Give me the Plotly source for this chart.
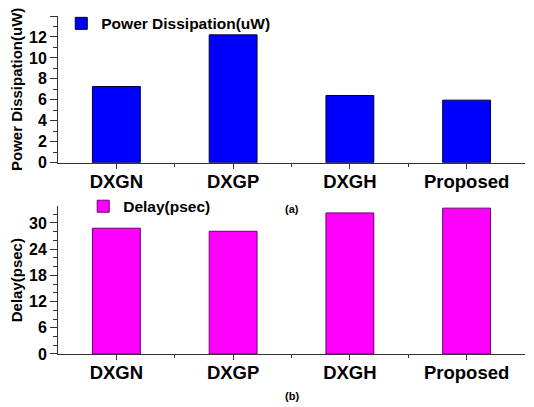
import plotly.graph_objects as go

categories = ["DXGN", "DXGP", "DXGH", "Proposed"]
power_uW = [7.27, 12.2, 6.41, 5.97]
delay_psec = [28.8, 28.1, 32.3, 33.4]
power_ticks = [0, 2, 4, 6, 8, 10, 12, 14]
delay_ticks = [0, 6, 12, 18, 24, 30]

FONT = "Liberation Sans, Arial, sans-serif"
xpos = list(range(len(categories)))

fig = go.Figure()
fig.add_trace(go.Bar(
    x=xpos, y=power_uW, name="Power Dissipation(uW)", width=0.41,
    marker=dict(color="#0000FF", line=dict(color="#000033", width=1)),
    xaxis="x", yaxis="y", legend="legend", showlegend=True,
))
fig.add_trace(go.Bar(
    x=xpos, y=delay_psec, name="Delay(psec)", width=0.41,
    marker=dict(color="#FF00FF", line=dict(color="#6a006a", width=1)),
    xaxis="x2", yaxis="y2", legend="legend2", showlegend=True,
))

axis_common = dict(showgrid=False, zeroline=False, showline=True,
                   linecolor="#333333", linewidth=1, ticks="outside",
                   tickcolor="#333333", tickwidth=1, automargin=False)

xaxis_cfg = dict(axis_common, range=[-0.5, 3.5], tickmode="array",
                 tickvals=xpos, ticktext=categories, ticklen=5,
                 ticklabelstandoff=-3,
                 tickfont=dict(family=FONT, size=18.5, color="black", weight="bold"),
                 minor=dict(tickvals=[0.5, 1.5, 2.5], ticklen=3, ticks="outside",
                            tickcolor="#333333"))

# figure sits at an 8px page offset (default body margin)
fig.update_layout(
    width=526, height=399,
    margin=dict(l=50, r=9, t=8, b=53, autoexpand=False),
    paper_bgcolor="white", plot_bgcolor="white",
    font=dict(family=FONT, color="black"),
    showlegend=True,
    bargap=0.5,
    xaxis=dict(xaxis_cfg, domain=[0, 1], anchor="y"),
    yaxis=dict(axis_common, domain=[0.566, 1.0], anchor="x", range=[0, 14],
               tickmode="array", tickvals=power_ticks, ticklen=7,
               tickfont=dict(family=FONT, size=16, color="black", weight="bold"),
               minor=dict(dtick=1, ticklen=4, ticks="outside", tickcolor="#333333"),
               title=dict(text="Power Dissipation(uW)", standoff=8,
                          font=dict(family=FONT, size=15, color="black", weight="bold"))),
    xaxis2=dict(xaxis_cfg, domain=[0, 1], anchor="y2"),
    yaxis2=dict(axis_common, domain=[0.0, 0.4367], anchor="x2", range=[0, 33.8],
                tickmode="array", tickvals=delay_ticks, ticklen=7,
                tickfont=dict(family=FONT, size=16, color="black", weight="bold"),
                minor=dict(dtick=2, ticklen=4, ticks="outside", tickcolor="#333333"),
                title=dict(text="Delay(psec)", standoff=8,
                           font=dict(family=FONT, size=15, color="black", weight="bold"))),
    legend=dict(x=0.007, y=0.977, xanchor="left", yanchor="middle",
                bgcolor="rgba(0,0,0,0)", borderwidth=0,
                font=dict(family=FONT, size=15.5, color="black", weight="bold")),
    legend2=dict(x=0.054, y=0.436, xanchor="left", yanchor="middle",
                 bgcolor="rgba(0,0,0,0)", borderwidth=0,
                 font=dict(family=FONT, size=15.5, color="black", weight="bold")),
    annotations=[
        dict(text="(a)", x=0.501, y=0.428, xref="paper", yref="paper",
             xanchor="center", yanchor="middle", showarrow=False,
             font=dict(family=FONT, size=11, color="black", weight="bold")),
        dict(text="(b)", x=0.501, y=-0.125, xref="paper", yref="paper",
             xanchor="center", yanchor="middle", showarrow=False,
             font=dict(family=FONT, size=11, color="black", weight="bold")),
    ],
)

fig.write_html("out.html")
